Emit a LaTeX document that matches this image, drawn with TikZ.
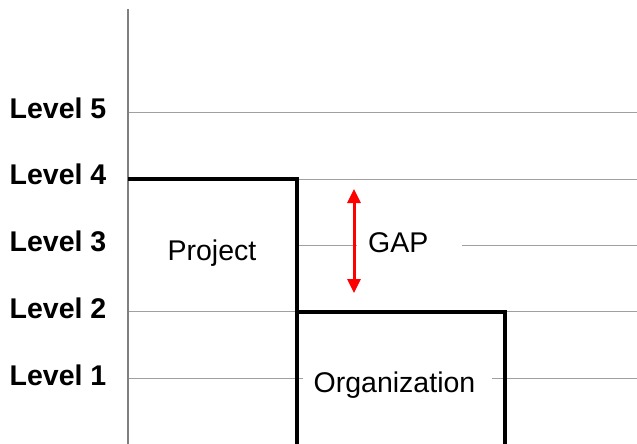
\documentclass[tikz,border=0pt]{standalone}
\usepackage{fontspec}
\setmainfont{Liberation Sans}
\usetikzlibrary{arrows.meta}
\definecolor{gridgray}{HTML}{A0A0A0}
\definecolor{axisgray}{HTML}{808080}
\tikzset{
  levellabel/.style={anchor=base east, inner sep=0pt, font=\fontsize{28.5}{32}\selectfont\bfseries},
  boxlabel/.style={anchor=base, inner sep=0pt, font=\fontsize{28.5}{32}\selectfont},
  gridline/.style={draw=gridgray, line width=1.5pt},
  axisline/.style={draw=axisgray, line width=1.5pt},
  stepline/.style={draw=black, line width=4pt, line join=miter},
  gaparrow/.style={draw=red, line width=3pt, {Triangle[width=13pt,length=14pt]}-{Triangle[width=13pt,length=14pt]}}
}
\begin{document}
\begin{tikzpicture}[x=1pt,y=-1pt]
\useasboundingbox (0,0) rectangle (637,444);
% coordinates
\coordinate (ax0) at (128,9);
\coordinate (ax1) at (128,444);
% grid lines
\draw[gridline] (128,112.7) -- (637,112.7);
\draw[gridline] (297,179.3) -- (637,179.3);
\draw[gridline] (297,245.7) -- (357,245.7);
\draw[gridline] (462,245.7) -- (637,245.7);
\draw[gridline] (128,311.7) -- (297,311.7);
\draw[gridline] (505,311.7) -- (637,311.7);
\draw[gridline] (128,378.3) -- (303,378.3);
\draw[gridline] (492,378.3) -- (637,378.3);
% axis
\draw[axisline] (ax0) -- (ax1);
% step outlines
\coordinate (p0) at (128,179.3);
\coordinate (p1) at (297,179.3);
\coordinate (p2) at (297,446);
\coordinate (o0) at (297,311.7);
\coordinate (o1) at (505,311.7);
\coordinate (o2) at (505,446);
\draw[stepline] (p0) -- (p1) -- (p2);
\draw[stepline] (o0) -- (o1) -- (o2);
% gap arrow
\coordinate (gtop) at (354,189);
\coordinate (gbot) at (354,293);
\draw[gaparrow] (gtop) -- (gbot);
% labels
\node[levellabel] (l5) at (106.5,118.3) {Level 5};
\node[levellabel] (l4) at (106.5,184) {Level 4};
\node[levellabel] (l3) at (106.5,251) {Level 3};
\node[levellabel] (l2) at (106.5,318.3) {Level 2};
\node[levellabel] (l1) at (106.5,385) {Level 1};
\node[boxlabel] (proj) at (212,260) {Project};
\node[boxlabel, anchor=base west] (gap) at (368,252.7) {GAP};
\node[boxlabel] (org) at (394.5,392.7) {Organization};
\end{tikzpicture}
\end{document}
